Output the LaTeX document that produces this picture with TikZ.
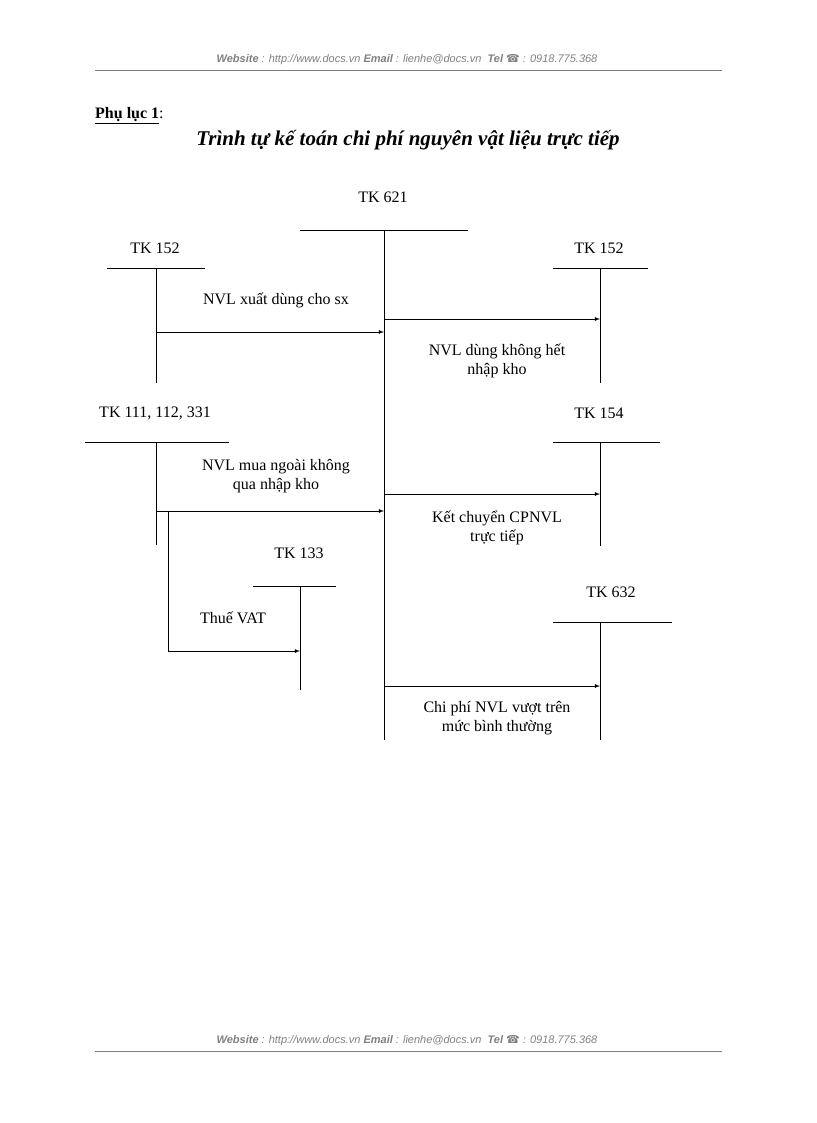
\documentclass[tikz,border=0pt]{standalone}
\usepackage{fontspec}
\setmainfont{Liberation Serif}
\newfontfamily\hdr{Liberation Sans}
\newfontfamily\sym{DejaVu Sans}
\begin{document}
\begin{tikzpicture}[x=1pt,y=-1pt,
  lbl/.style={font=\fontsize{16}{19}\selectfont, inner sep=0pt, align=center},
  acc/.style={line width=0.8pt},
  arr/.style={line width=0.8pt,-latex},
  hd/.style={text=gray, font=\hdr\itshape\fontsize{11}{13}\selectfont}]
\useasboundingbox (0,0) rectangle (816,1123);
% header / footer
\node[hd] (h1) at (407,60) {\textbf{Website} : http://www.docs.vn \textbf{Email} : lienhe@docs.vn \ \textbf{Tel} {\sym\upshape ☎} : 0918.775.368};
\draw[gray,line width=0.8pt] (95,70) -- (722,70);
\node[hd] (h2) at (407,1041) {\textbf{Website} : http://www.docs.vn \textbf{Email} : lienhe@docs.vn \ \textbf{Tel} {\sym\upshape ☎} : 0918.775.368};
\draw[gray,line width=0.8pt] (95,1051) -- (722,1051);
% titles
\node[lbl,anchor=west] (pl) at (95,116) {\textbf{\underline{Phụ lục 1}}:};
\node[lbl,font=\fontsize{21}{24}\selectfont\bfseries\itshape] (title) at (408,140) {Trình tự kế toán chi phí nguyên vật liệu trực tiếp};
% TK 621
\node[lbl] (t621) at (383,197) {TK 621};
\coordinate (a621) at (384,230);
\coordinate (b621) at (384,740);
\draw[acc] (300,230) -- (468,230);
\draw[acc] (a621) -- (b621);
% TK 152 left
\node[lbl] (t152l) at (155,248) {TK 152};
\draw[acc] (107,268) -- (205,268);
\draw[acc] (156,268) -- (156,383);
\coordinate (s1) at (156,332); \coordinate (e1) at (384,332);
\draw[arr] (s1) -- (e1);
\node[lbl] (l1) at (276,300) {NVL xuất dùng cho sx};
% TK 152 right
\node[lbl] (t152r) at (599,248) {TK 152};
\draw[acc] (553,268) -- (648,268);
\draw[acc] (600,268) -- (600,383);
\coordinate (s2) at (384,319); \coordinate (e2) at (600,319);
\draw[arr] (s2) -- (e2);
\node[lbl] (l2) at (497,361) {NVL dùng không hết\\nhập kho};
% TK 111
\node[lbl] (t111) at (155,413) {TK 111, 112, 331};
\draw[acc] (85,442) -- (229,442);
\draw[acc] (156,442) -- (156,545);
\coordinate (s3) at (156,511); \coordinate (e3) at (384,511);
\draw[arr] (s3) -- (e3);
\node[lbl] (l3) at (276,476) {NVL mua ngoài không\\qua nhập kho};
% TK 133
\node[lbl] (t133) at (299,553) {TK 133};
\draw[acc] (253,586) -- (336,586);
\draw[acc] (300,586) -- (300,690);
\coordinate (s4) at (168,511); \coordinate (e4) at (300,651);
\draw[arr] (s4) |- (e4);
\node[lbl] (l4) at (233,618) {Thuế VAT};
% TK 154
\node[lbl] (t154) at (599,413) {TK 154};
\draw[acc] (553,442) -- (660,442);
\draw[acc] (600,442) -- (600,546);
\coordinate (s5) at (384,494); \coordinate (e5) at (600,494);
\draw[arr] (s5) -- (e5);
\node[lbl] (l5) at (497,528) {Kết chuyển CPNVL\\trực tiếp};
% TK 632
\node[lbl] (t632) at (611,592) {TK 632};
\draw[acc] (553,622) -- (672,622);
\draw[acc] (600,622) -- (600,740);
\coordinate (s6) at (384,686); \coordinate (e6) at (600,686);
\draw[arr] (s6) -- (e6);
\node[lbl] (l6) at (497,718) {Chi phí NVL vượt trên\\mức bình thường};
\end{tikzpicture}
\end{document}
